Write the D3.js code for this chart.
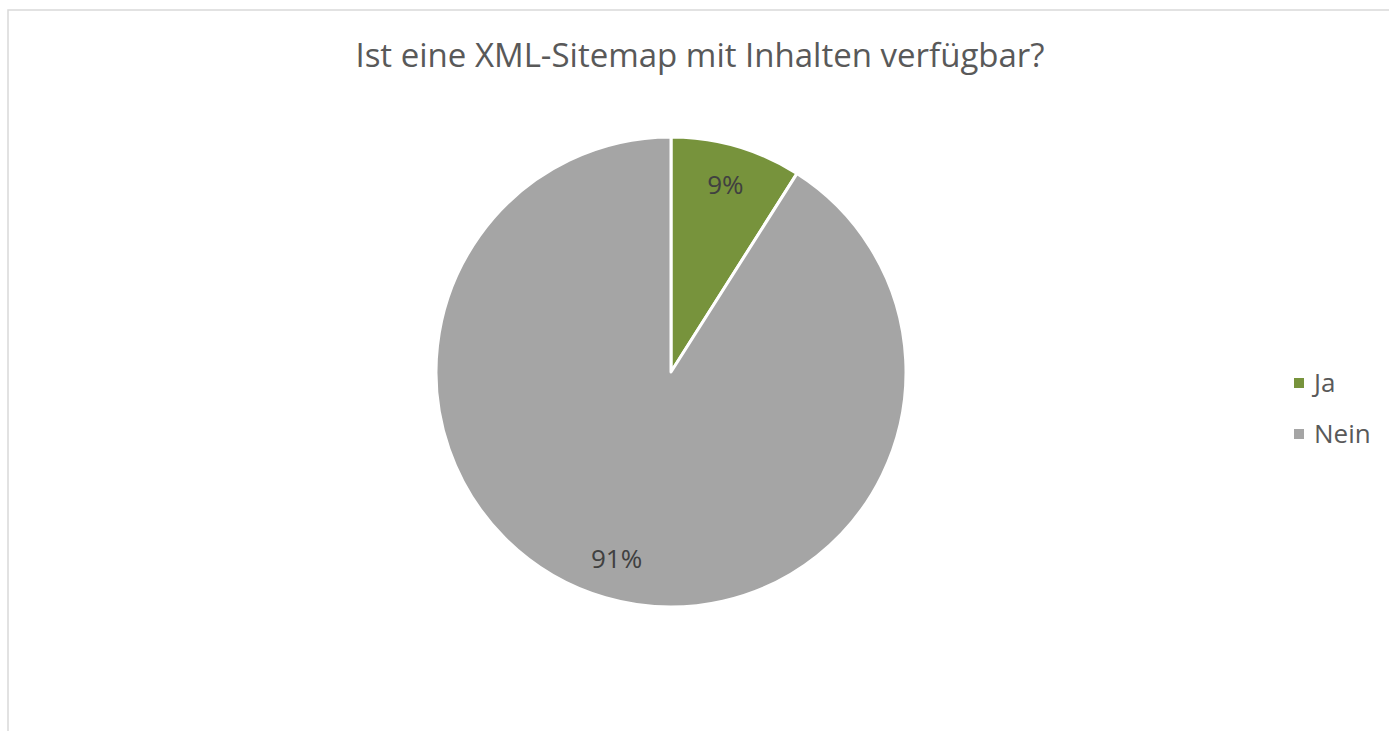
<!DOCTYPE html>
<html>
<head>
<meta charset="utf-8">
<script src="https://cdn.jsdelivr.net/npm/d3@7"></script>
<style>
  html, body { margin: 0; padding: 0; background: #fff; }
  svg { display: block; font-family: "Open Sans", "Noto Sans", sans-serif; }
</style>
</head>
<body>
<div id="chart"></div>
<script>
// Pie chart: XML-Sitemap availability

var title = 'Ist eine XML-Sitemap mit Inhalten verfügbar?';
var categories = ['Ja', 'Nein'];
var values = [9, 91];
var colors = ['#77933c', '#a5a5a5'];

var width = 1389, height = 731;
var cx = 671, cy = 372, radius = 235;

var svg = d3.select('#chart').append('svg').attr('width', width).attr('height', height);

// chart frame (only top and left visible in the crop)
svg.append('rect').attr('x', 8).attr('y', 10).attr('width', width + 20).attr('height', height + 20)
    .attr('fill', '#fff').attr('stroke', '#d9d9d9').attr('stroke-width', 1.5);

svg.append('text').attr('x', 700).attr('y', 67).attr('text-anchor', 'middle')
    .attr('font-size', 33).attr('fill', '#595959').text(title);

var data = categories.map(function(c, i) { return { name: c, value: values[i] }; });
var color = d3.scaleOrdinal().domain(categories).range(colors);
var pie = d3.pie().sort(null).value(function(d) { return d.value; });
var arc = d3.arc().innerRadius(0).outerRadius(radius);
var labelArc = d3.arc().innerRadius(radius * 0.83).outerRadius(radius * 0.83);

var g = svg.append('g').attr('transform', 'translate(' + cx + ',' + cy + ')');
var arcs = pie(data);
g.selectAll('path').data(arcs).enter().append('path')
    .attr('d', arc).attr('fill', function(d) { return color(d.data.name); })
    .attr('stroke', '#fff').attr('stroke-width', 3).attr('stroke-linejoin', 'round');

var total = d3.sum(values);
g.selectAll('.lbl').data(arcs).enter().append('text').attr('class', 'lbl')
    .attr('transform', function(d) { var p = labelArc.centroid(d); return 'translate(' + p[0] + ',' + p[1] + ')'; })
    .attr('text-anchor', 'middle').attr('dy', '0.35em')
    .attr('font-size', 26).attr('fill', '#404040')
    .text(function(d) { return Math.round(d.data.value / total * 100) + '%'; });

var legend = svg.append('g').attr('transform', 'translate(1294,383)');
var items = legend.selectAll('g').data(categories).enter().append('g')
    .attr('transform', function(d, i) { return 'translate(0,' + (i * 51) + ')'; });
items.append('rect').attr('x', 0).attr('y', -5).attr('width', 10).attr('height', 10)
    .attr('fill', function(d) { return color(d); });
items.append('text').attr('x', 20).attr('y', 0).attr('dy', '0.35em')
    .attr('font-size', 26).attr('fill', '#595959').text(function(d) { return d; });
</script>
</body>
</html>
